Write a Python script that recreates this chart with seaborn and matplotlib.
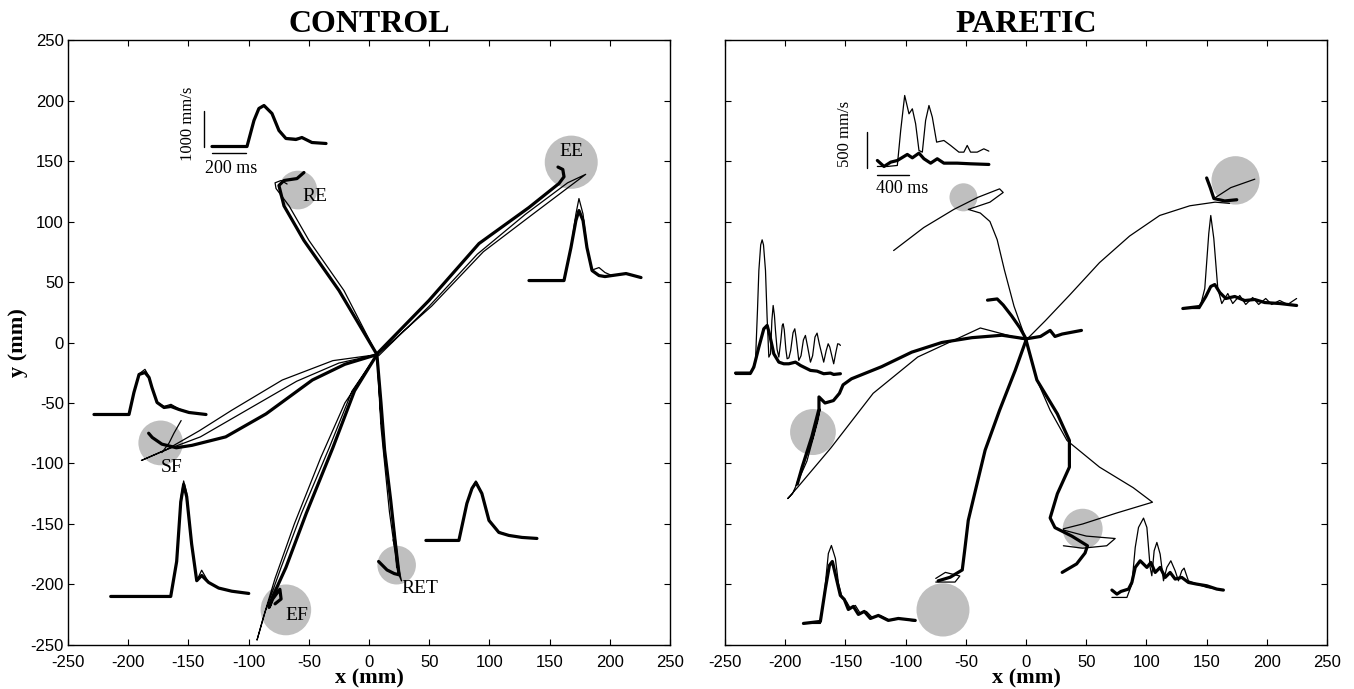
import numpy as np
import matplotlib
matplotlib.use("Agg")
import matplotlib.pyplot as plt
import seaborn as sns
from matplotlib.patches import Circle

# ---------------- CONTROL: hand trajectories (x mm, y mm) ----------------
c_re_thick = [(6.6, -9.9), (-24.9, 43), (-54, 84.3), (-70.6, 113), (-74.8, 129.8), (-70.6, 133.9), (-59.8, 135.5), (-54, 140.5)]
c_re_thin = [(6.6, -9.9), (-20.8, 43), (-49.8, 84.3), (-66.4, 113), (-77.2, 127.3), (-78, 132), (-73, 133.9), (-68, 131)]
c_ee_thick = [(7, -9), (49.8, 34.7), (91.4, 81.8), (132.9, 111.6), (157.8, 131.4), (162, 137), (161, 143), (157, 145)]
c_ee_thin = [(7, -10), (52, 30), (95, 75), (136, 106), (180, 139), (165, 132), (130, 106), (90, 73), (50, 30), (8, -11)]
c_sf_thick = [(6.6, -10), (-20, -18), (-47, -31), (-85.5, -59), (-119, -78), (-147, -85), (-160, -87), (-172, -84), (-180, -78.5), (-183, -75)]
c_sf_thin = [(6.6, -10), (-30, -15), (-72, -31), (-114, -56), (-141, -73), (-169, -89), (-189, -97.5), (-172, -90), (-140, -78), (-100, -55), (-60, -32), (-25, -17), (6.6, -10)]
c_sf_arc = [(-156, -64.5), (-162, -75), (-166, -83), (-172, -91)]
c_ef_thick = [(6.6, -10), (-12, -40), (-30, -87), (-52, -141), (-69, -186), (-80, -210), (-83, -219), (-80, -212), (-74, -204), (-73, -212), (-78, -216)]
c_ef_thin = [(6.6, -10), (-14, -40), (-33, -87), (-56, -141), (-73, -186), (-86, -222), (-93, -246), (-88, -228), (-78, -195), (-62, -150), (-40, -95), (-20, -50), (6.6, -10)]
c_ret_thick = [(6.6, -10), (10, -50), (13, -89), (18, -130), (21.6, -163), (25, -192), (21, -191), (15, -188), (8, -181)]
c_ret_thin = [(6.6, -10), (10, -64), (18, -130), (25, -188), (27, -197), (24, -190), (17, -140), (10, -70), (6.6, -10)]
c_ret_hook = [(20, -163), (22, -172), (23, -186)]

# CONTROL targets: (x, y, radius) and labels
c_targets = [(-59, 126, 16), (168, 149, 22), (-173, -83, 18.5), (-69, -221, 21), (23, -184, 16)]
c_labels = ["RE", "EE", "SF", "EF", "RET"]
c_label_pos = [(-45, 121), (168, 158), (-164, -103), (-60, -226), (42, -203)]

# CONTROL speed profiles: time (ms), speed (mm/s) thick / thin
re_t = [0, 206, 247, 276, 306, 353, 394, 435, 494, 529, 588, 671]
re_v_thick = [0, 0, 743, 1086, 1171, 943, 457, 229, 200, 257, 114, 86]
re_v_thin = [0, 0, 743, 1090, 1180, 950, 470, 240, 230, 240, 120, 80]
ee_t = [0, 206, 247, 276, 294, 318, 341, 371, 412, 447, 488, 571, 659]
ee_v_thick = [0, 0, 943, 1714, 2000, 1714, 943, 286, 143, 114, 143, 200, 86]
ee_v_thin = [0, 0, 943, 1900, 2343, 1900, 943, 300, 371, 230, 143, 200, 86]
sf_t = [0, 206, 235, 265, 300, 324, 341, 371, 412, 453, 500, 559, 659]
sf_v_thick = [0, 0, 629, 1143, 1200, 1057, 771, 343, 200, 229, 143, 57, 0]
sf_v_thin = [0, 0, 629, 1160, 1290, 1080, 771, 343, 230, 290, 160, 57, 0]
ef_t = [0, 353, 388, 412, 429, 447, 476, 506, 535, 576, 635, 712, 812]
ef_v_thick = [0, 0, 1000, 2700, 3200, 2850, 1500, 450, 600, 400, 240, 150, 86]
ef_v_thin = [0, 0, 1000, 2800, 3300, 2950, 1500, 450, 750, 400, 240, 150, 86]
ret_t = [0, 194, 241, 271, 294, 329, 371, 429, 488, 565, 653]
ret_v_thick = [0, 0, 1057, 1486, 1657, 1343, 571, 229, 143, 86, 57]
ret_v_thin = [0, 0, 1057, 1500, 1700, 1343, 571, 250, 143, 86, 57]
c_prof_origin = [(-130.4, 162), (132.9, 51.2), (-228.4, -59.5), (-214.5, -209.9), (47.3, -163.6)]

# ---------------- PARETIC: hand trajectories ----------------
p_tl_thin = [(-110, 76), (-85, 95), (-60, 110), (-40, 120), (-22, 127), (-19, 124), (-30, 116), (-48, 110), (-38, 107), (-30, 100), (-24, 85), (-18, 60), (-10, 30), (0, 2)]
p_tl_thick = [(-32, 35), (-24, 36), (-19, 31), (-12, 22), (-5, 12), (0, 3)]
p_r_thick = [(0, 3), (12, 5), (20, 10), (24, 5), (30, 7), (46, 10)]
p_tr_thin = [(0, 2), (16, 18), (36, 39), (61, 66), (86, 88), (111, 105), (136, 113), (157, 116), (169, 115)]
p_tr_thick = [(150, 136), (153, 128), (156, 119), (165, 117), (175, 118)]
p_tr_thin2 = [(156, 119), (170, 128), (190, 135)]
p_l_thick = [(0, 3), (-20, 6), (-45, 4), (-70, 0), (-95, -8), (-120, -20), (-145, -30), (-152, -35), (-155, -42), (-160, -48), (-167, -50), (-172, -45), (-172, -55), (-178, -78), (-186, -103), (-190, -117)]
p_l_thin = [(0, 2), (-38, 12), (-90, -12), (-127, -42), (-162, -87), (-190, -120), (-198, -129), (-194, -125), (-182, -98), (-173, -65), (-171, -55), (-177, -79), (-187, -107), (-191, -118)]
p_br_thin = [(0, 2), (9, -31), (20, -56), (34, -81), (61, -103), (89, -120), (105, -132), (75, -141), (47, -150), (31, -154), (31, -155), (50, -160), (74, -162), (67, -168), (47, -170), (31, -168)]
p_br_thick = [(0, 2), (9, -31), (26, -59), (36, -81), (36, -103), (26, -125), (20, -145), (24, -153), (38, -160), (51, -168), (49, -174), (42, -183), (30, -190)]
p_b_thick = [(0, 2), (-9, -23), (-22, -56), (-34, -89), (-42, -122), (-48, -147), (-51, -172), (-53, -188), (-63, -194), (-73, -197)]
p_b_thin = [(-75, -195), (-67, -190), (-55, -193), (-59, -198), (-75, -198)]

p_targets = [(-52, 120, 11.6), (174, 134, 20), (-177, -74, 19), (47, -154, 16.6), (-69, -221, 22)]

# PARETIC speed profiles
pt_t_thin = [0, 125, 250, 292, 342, 396, 438, 479, 521, 563, 604, 646, 688, 742, 833, 917, 1021, 1083, 1125, 1167, 1250, 1333, 1396]
pt_v_thin = [0, 0, 14, 500, 986, 731, 801, 593, 222, 199, 639, 847, 685, 338, 361, 292, 199, 199, 292, 199, 199, 245, 213]
pt_t_thick = [0, 83, 167, 250, 375, 438, 521, 583, 667, 750, 833, 1000, 1167, 1396]
pt_v_thick = [83, 0, 60, 83, 167, 120, 185, 107, 46, 107, 46, 46, 37, 28]
pl_t_thin = [0, 188, 250, 275, 292, 315, 333, 350, 375, 395, 417, 438, 455, 471, 487, 500, 520, 542, 565, 585, 596, 610, 630, 646,
             668, 690, 720, 742, 760, 792, 820, 850, 875, 900, 938, 965, 995, 1021, 1050, 1104, 1135, 1160, 1180, 1229, 1255, 1279, 1300, 1313]
pl_v_thin = [0, 0, 194, 900, 1444, 1800, 1870, 1800, 1444, 800, 241, 287, 750, 958, 820, 611, 350, 241, 450, 680, 704, 620, 350, 218,
             230, 330, 580, 634, 500, 194, 260, 480, 542, 400, 171, 260, 520, 574, 420, 171, 330, 426, 380, 148, 300, 426, 420, 403]
pl_t_thick = [0, 188, 229, 292, 354, 396, 429, 479, 542, 604, 667, 750, 813, 938, 1021, 1104, 1188, 1229, 1313]
pl_v_thick = [19, 19, 102, 380, 634, 681, 542, 287, 171, 148, 148, 171, 125, 56, 46, 10, 19, 0, 10]
pr_t_thin = [0, 212, 275, 325, 350, 388, 438, 488, 563, 625, 713, 788, 875, 950, 1038, 1113, 1213, 1313, 1425]
pr_v_thin = [0, 0, 278, 1042, 1292, 972, 278, 69, 208, 69, 181, 56, 153, 56, 139, 56, 111, 56, 139]
pr_t_thick = [0, 212, 288, 350, 400, 463, 538, 650, 775, 900, 1025, 1213, 1425]
pr_v_thick = [0, 28, 167, 306, 333, 222, 139, 167, 111, 125, 83, 69, 42]
pbr_t_thin = [0, 188, 250, 292, 333, 396, 438, 479, 500, 529, 563, 604, 646, 688, 738, 792, 833, 875, 904, 958, 1063, 1188, 1396]
pbr_v_thin = [0, 0, 185, 694, 972, 1102, 972, 417, 301, 648, 764, 602, 231, 417, 509, 370, 231, 370, 407, 231, 185, 139, 102]
pbr_t_thick = [0, 63, 113, 167, 208, 250, 292, 354, 396, 438, 488, 542, 604, 667, 729, 792, 875, 958, 1063, 1188, 1313, 1396]
pbr_v_thick = [102, 46, 83, 102, 116, 208, 417, 509, 463, 417, 486, 347, 417, 278, 347, 255, 278, 208, 185, 162, 116, 102]
pbl_t_thin = [0, 212, 262, 312, 350, 400, 438, 488, 538, 588, 650, 712, 788, 862, 962, 1088, 1212, 1400]
pbl_v_thin = [0, 0, 417, 972, 1083, 903, 556, 347, 306, 208, 250, 139, 167, 83, 111, 42, 69, 28]
pbl_t_thick = [0, 212, 275, 325, 362, 412, 462, 512, 562, 625, 688, 762, 838, 938, 1062, 1188, 1400]
pbl_v_thick = [0, 28, 486, 806, 861, 625, 389, 333, 194, 236, 125, 167, 69, 111, 42, 69, 42]
p_prof_origin = [(-123.5, 145.5), (-241.3, -26.4), (130.2, 28.1), (71.3, -210.7), (-184.9, -232.2)]

ticks = list(range(-250, 251, 50))

# ---------------- drawing ----------------
sns.set_theme(style="ticks")
plt.rcParams["font.family"] = ["Liberation Sans", "DejaVu Sans"]
plt.rcParams["axes.unicode_minus"] = False
plt.rcParams["text.color"] = "black"
plt.rcParams["axes.labelcolor"] = "black"
SERIF = ["Liberation Serif", "DejaVu Serif"]
THICK, THIN = 2.3, 0.9
GREY = "#bfbfbf"

fig = plt.figure(figsize=(13.54, 6.89), dpi=100)
axL = fig.add_axes([0.0502, 0.0639, 0.4446, 0.878])
axR = fig.add_axes([0.5355, 0.0639, 0.4446, 0.878])


def path(ax, pts, lw):
    xs = [p[0] for p in pts]
    ys = [p[1] for p in pts]
    sns.lineplot(x=xs, y=ys, sort=False, estimator=None, ax=ax, color="black",
                 linewidth=lw, legend=False, zorder=3)


def profile(ax, origin, t, v, ts, vs, lw):
    xs = [origin[0] + ti * ts for ti in t]
    ys = [origin[1] + vi * vs for vi in v]
    sns.lineplot(x=xs, y=ys, sort=False, estimator=None, ax=ax, color="black",
                 linewidth=lw, legend=False, zorder=3)


def targets(ax, tg):
    for (x, y, r) in tg:
        ax.add_patch(Circle((x, y), r, facecolor=GREY, edgecolor="none", zorder=1))


# Control
targets(axL, c_targets)
for pts, lw in [(c_re_thin, THIN), (c_re_thick, THICK), (c_ee_thin, THIN), (c_ee_thick, THICK),
                (c_sf_thin, THIN), (c_sf_arc, THIN), (c_sf_thick, THICK), (c_ef_thin, THIN),
                (c_ef_thick, THICK), (c_ret_thin, THIN), (c_ret_hook, THIN), (c_ret_thick, THICK)]:
    path(axL, pts, lw)
for lab, (x, y) in zip(c_labels, c_label_pos):
    axL.text(x, y, lab, family=SERIF, fontsize=14, ha="center", va="center", zorder=4)

cts, cvs = 0.1412, 0.02893
c_profs = [(re_t, re_v_thick, re_v_thin), (ee_t, ee_v_thick, ee_v_thin), (sf_t, sf_v_thick, sf_v_thin),
           (ef_t, ef_v_thick, ef_v_thin), (ret_t, ret_v_thick, ret_v_thin)]
for org, (t, vk, vn) in zip(c_prof_origin, c_profs):
    profile(axL, org, t, vn, cts, cvs, THIN)
    profile(axL, org, t, vk, cts, cvs, THICK)
# scale bars control
sns.lineplot(x=[-137, -137], y=[162, 162 + 1000 * cvs], ax=axL, color="black", linewidth=1.0, sort=False, estimator=None)
sns.lineplot(x=[-130.4, -130.4 + 200 * cts], y=[157, 157], ax=axL, color="black", linewidth=1.0, sort=False, estimator=None)
axL.text(-150, 181, "1000 mm/s", family=SERIF, fontsize=12, rotation=90, ha="center", va="center")
axL.text(-114.6, 144, "200 ms", family=SERIF, fontsize=13, ha="center", va="center")

# Paretic
targets(axR, p_targets)
for pts, lw in [(p_tl_thin, THIN), (p_tl_thick, THICK), (p_r_thick, THICK), (p_tr_thin, THIN),
                (p_tr_thick, THICK), (p_tr_thin2, THIN), (p_l_thin, THIN), (p_l_thick, THICK),
                (p_br_thin, THIN), (p_br_thick, THICK), (p_b_thin, THIN), (p_b_thick, THICK)]:
    path(axR, pts, lw)

pts_, pvs = 0.06633, 0.0595
p_profs = [(pt_t_thin, pt_v_thin, pt_t_thick, pt_v_thick), (pl_t_thin, pl_v_thin, pl_t_thick, pl_v_thick),
           (pr_t_thin, pr_v_thin, pr_t_thick, pr_v_thick), (pbr_t_thin, pbr_v_thin, pbr_t_thick, pbr_v_thick),
           (pbl_t_thin, pbl_v_thin, pbl_t_thick, pbl_v_thick)]
for org, (tn, vn, tk, vk) in zip(p_prof_origin, p_profs):
    profile(axR, org, tn, vn, pts_, pvs, THIN)
    profile(axR, org, tk, vk, pts_, pvs, THICK)
sns.lineplot(x=[-131.8, -131.8], y=[144.6, 144.6 + 500 * pvs], ax=axR, color="black", linewidth=1.0, sort=False, estimator=None)
sns.lineplot(x=[-123.5, -123.5 + 400 * pts_], y=[138.8, 138.8], ax=axR, color="black", linewidth=1.0, sort=False, estimator=None)
axR.text(-150, 172, "500 mm/s", family=SERIF, fontsize=12, rotation=90, ha="center", va="center")
axR.text(-103, 127, "400 ms", family=SERIF, fontsize=13, ha="center", va="center")

for ax, title in [(axL, "CONTROL"), (axR, "PARETIC")]:
    ax.set_xlim(-250, 250)
    ax.set_ylim(-250, 250)
    ax.set_xticks(ticks)
    ax.set_yticks(ticks)
    ax.tick_params(direction="in", top=True, right=True, length=4, width=0.8,
                   labelsize=12, colors="black", pad=3)
    ax.tick_params(axis="x", pad=7)
    for s in ax.spines.values():
        s.set_linewidth(1.0)
        s.set_color("black")
    ax.set_title(title, family=SERIF, fontweight="bold", fontsize=23, pad=6, color="black")
    ax.set_xlabel("x (mm)", family=SERIF, fontweight="bold", fontsize=16, labelpad=-1)
    ax.set_facecolor("white")
axL.set_ylabel("y (mm)", family=SERIF, fontweight="bold", fontsize=16, labelpad=2)
axR.tick_params(labelleft=False)
axR.set_ylabel("")

fig.savefig("out.png", dpi=100)
